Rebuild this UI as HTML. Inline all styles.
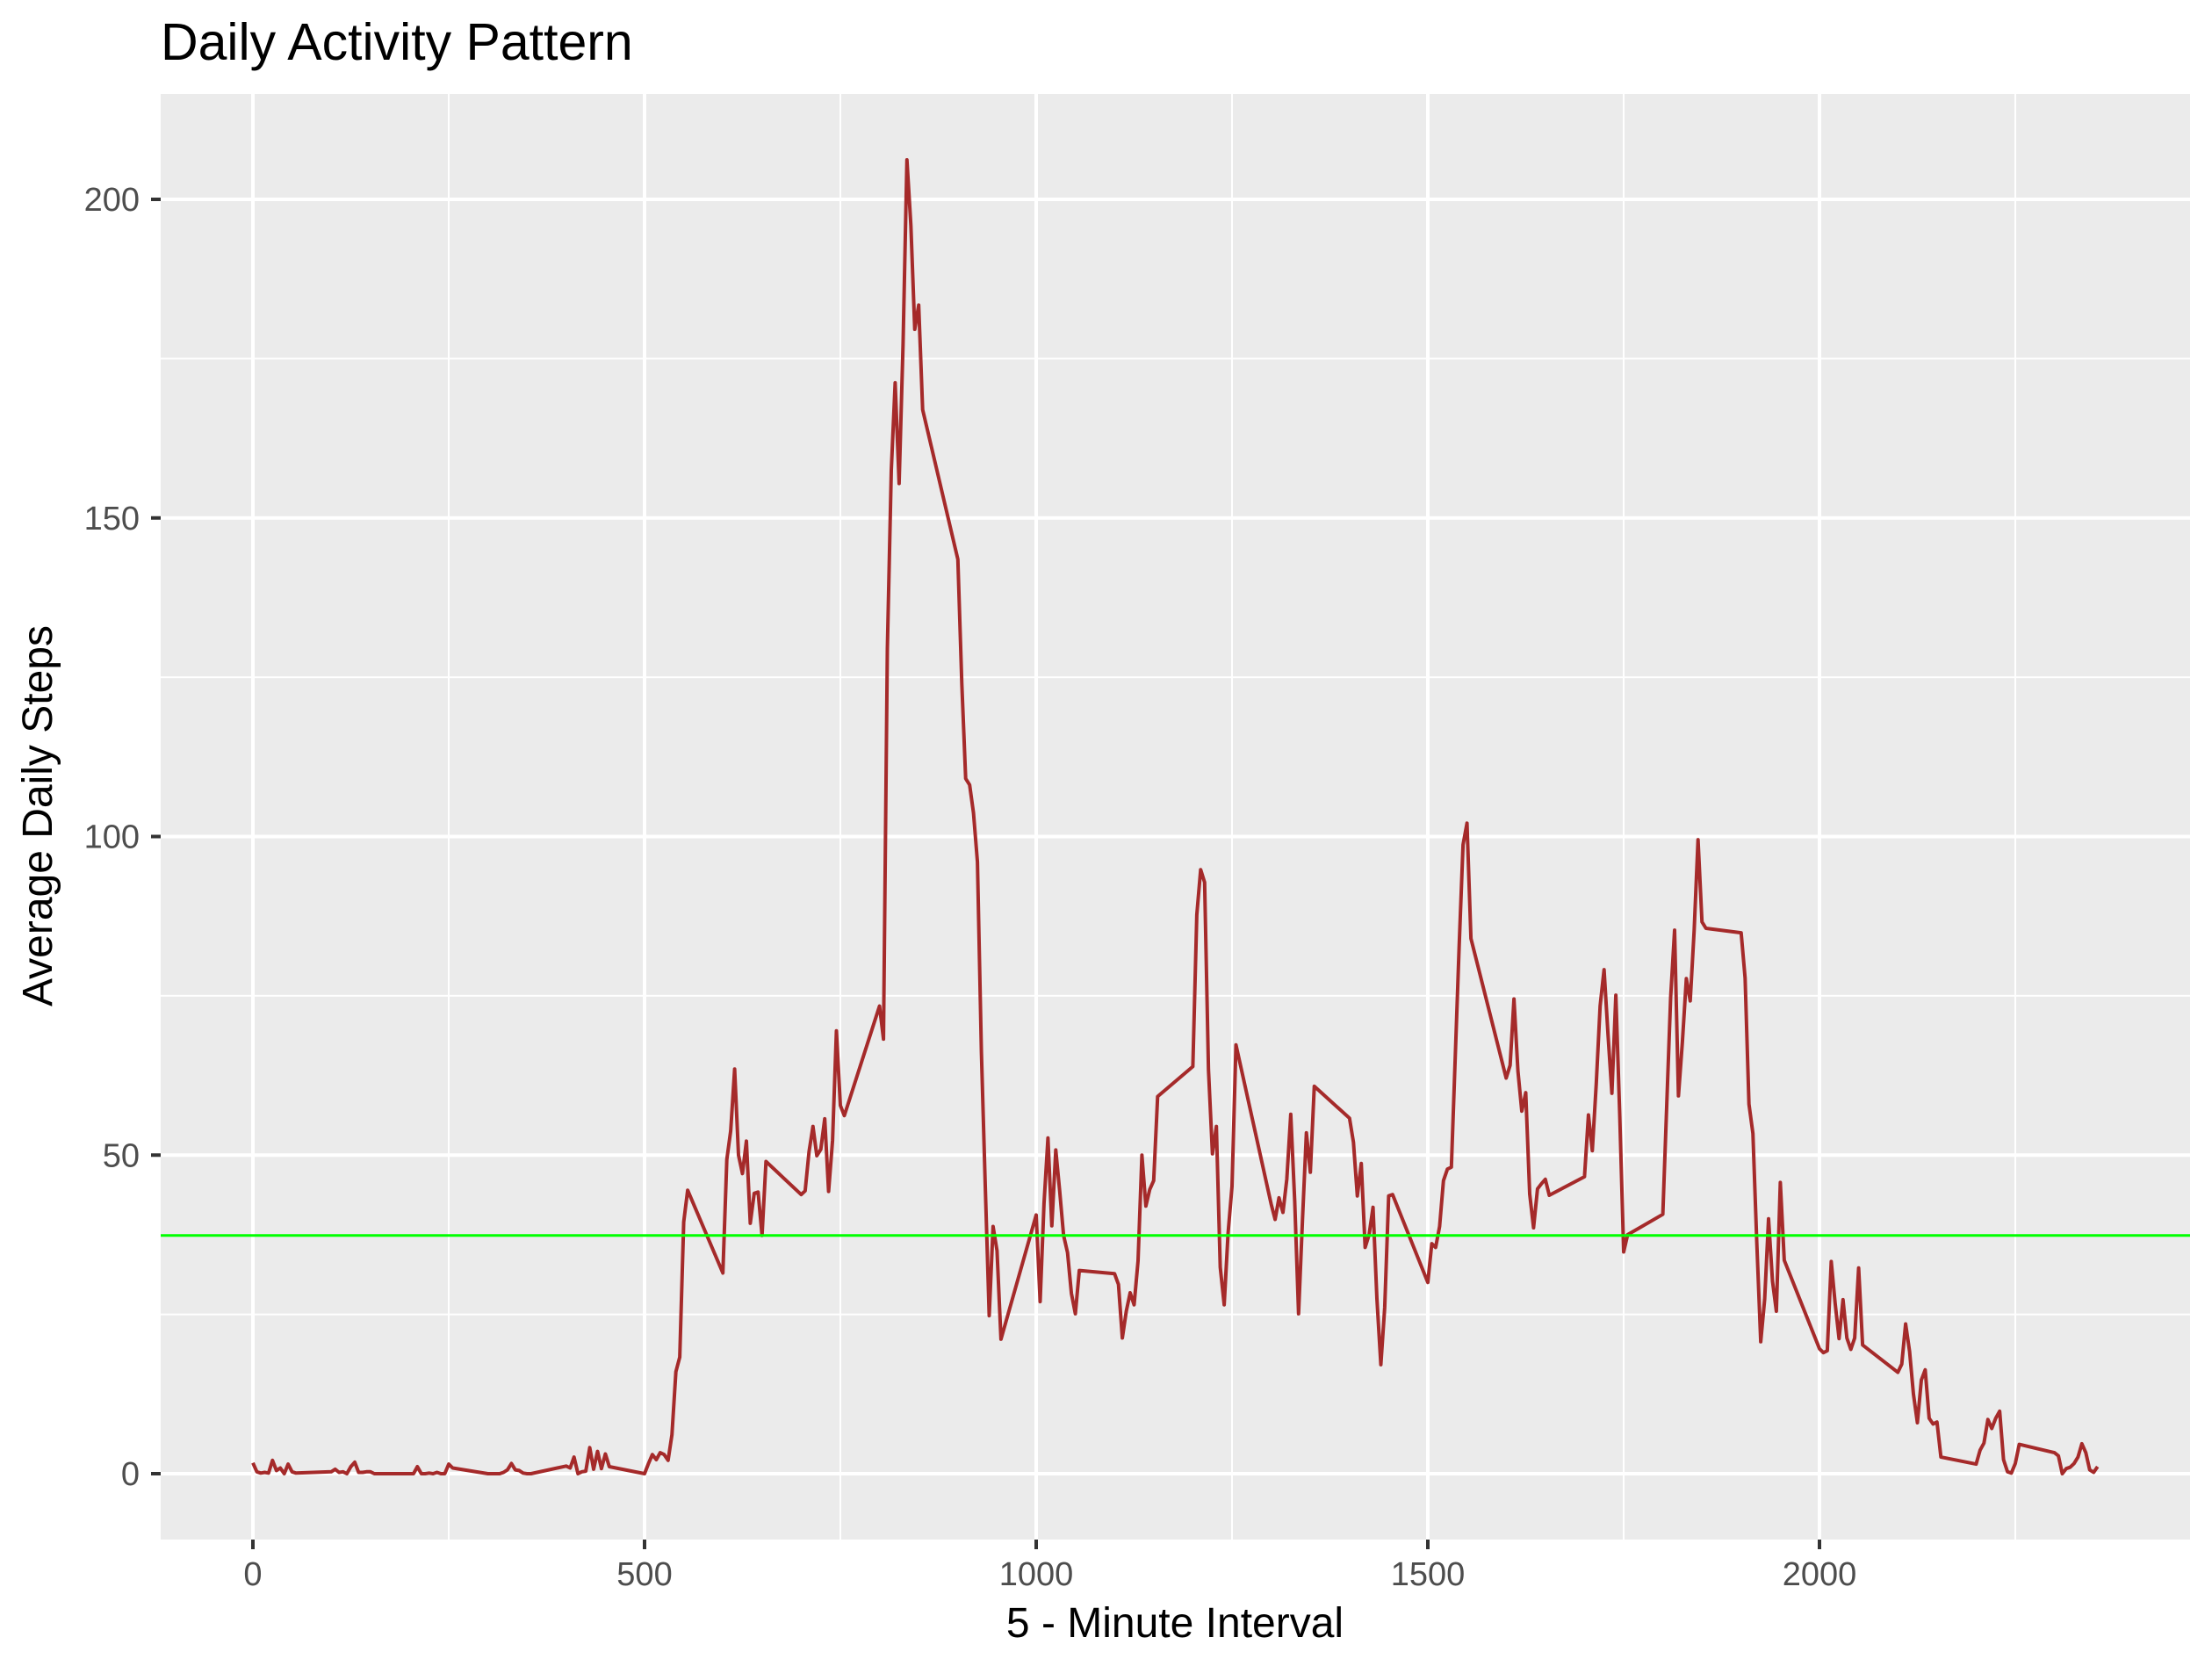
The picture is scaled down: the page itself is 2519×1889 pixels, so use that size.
<!DOCTYPE html>
<html><head><meta charset="utf-8"><style>
html,body{margin:0;padding:0;background:#fff}
svg{display:block}
text{font-family:"Liberation Sans",Arial,sans-serif}
</style></head><body>
<svg id="chart" width="2519" height="1889" xmlns="http://www.w3.org/2000/svg">
<rect x="0" y="0" width="2519" height="1889" fill="#fff"/>
<text x="183" y="68" font-size="59" fill="#000">Daily Activity Pattern</text>
<rect x="183" y="107" width="2311" height="1646" fill="#ebebeb"/>
<g id="grid"></g>
<g id="marks"></g>
<g id="axes"></g>
<text x="1338" y="1864" font-size="48" text-anchor="middle" fill="#000">5 - Minute Interval</text>
<text transform="translate(59,929) rotate(-90)" font-size="48" text-anchor="middle" fill="#000">Average Daily Steps</text>
</svg>
<script>
const intervals = [0,5,10,15,20,25,30,35,40,45,50,55,100,105,110,115,120,125,130,135,140,145,150,155,200,205,210,215,220,225,230,235,240,245,250,255,300,305,310,315,320,325,330,335,340,345,350,355,400,405,410,415,420,425,430,435,440,445,450,455,500,505,510,515,520,525,530,535,540,545,550,555,600,605,610,615,620,625,630,635,640,645,650,655,700,705,710,715,720,725,730,735,740,745,750,755,800,805,810,815,820,825,830,835,840,845,850,855,900,905,910,915,920,925,930,935,940,945,950,955,1000,1005,1010,1015,1020,1025,1030,1035,1040,1045,1050,1055,1100,1105,1110,1115,1120,1125,1130,1135,1140,1145,1150,1155,1200,1205,1210,1215,1220,1225,1230,1235,1240,1245,1250,1255,1300,1305,1310,1315,1320,1325,1330,1335,1340,1345,1350,1355,1400,1405,1410,1415,1420,1425,1430,1435,1440,1445,1450,1455,1500,1505,1510,1515,1520,1525,1530,1535,1540,1545,1550,1555,1600,1605,1610,1615,1620,1625,1630,1635,1640,1645,1650,1655,1700,1705,1710,1715,1720,1725,1730,1735,1740,1745,1750,1755,1800,1805,1810,1815,1820,1825,1830,1835,1840,1845,1850,1855,1900,1905,1910,1915,1920,1925,1930,1935,1940,1945,1950,1955,2000,2005,2010,2015,2020,2025,2030,2035,2040,2045,2050,2055,2100,2105,2110,2115,2120,2125,2130,2135,2140,2145,2150,2155,2200,2205,2210,2215,2220,2225,2230,2235,2240,2245,2250,2255,2300,2305,2310,2315,2320,2325,2330,2335,2340,2345,2350,2355];
const steps = [1.7,0.3,0.1,0.2,0.1,2.1,0.5,0.9,0,1.5,0.3,0.1,0.3,0.7,0.2,0.3,0,1.1,1.8,0.2,0.2,0.3,0.3,0,0,0,1.1,0,0,0.1,0,0.2,0,0,1.5,0.9,0,0,0,0,0.2,0.6,1.6,0.6,0.5,0.1,0,0,1.2,0.9,2.6,0,0.3,0.4,4.1,0.7,3.5,0.8,3.1,1.1,0,1.6,3.0,2.2,3.3,3.0,2.1,6.1,16.0,18.3,39.5,44.5,31.5,49.3,53.8,63.5,50.0,47.1,52.2,39.3,44.0,44.2,37.4,49.0,43.8,44.4,50.5,54.5,49.9,50.9,55.7,44.3,52.3,69.5,57.8,56.2,73.4,68.2,129.4,157.5,171.2,155.4,177.3,206.2,195.9,179.6,183.4,167.0,143.5,124.0,109.1,108.1,103.7,96.0,66.2,45.2,24.8,38.8,35.0,21.1,40.6,27.0,42.4,52.7,38.9,50.8,44.3,37.4,34.7,28.3,25.1,31.9,31.4,29.7,21.3,25.5,28.4,26.5,33.4,50.0,42.0,44.6,46.0,59.2,63.9,87.7,94.8,92.8,63.4,50.2,54.5,32.4,26.5,37.7,45.1,67.3,42.3,39.9,43.3,41.0,46.2,56.4,42.8,25.1,40.0,53.5,47.3,60.8,55.8,52.0,43.6,48.7,35.5,37.5,41.8,27.5,17.1,26.1,43.6,43.8,30.0,36.1,35.5,38.8,46.0,47.8,48.1,65.3,82.9,98.7,102.1,84.0,62.1,64.1,74.5,63.2,56.9,59.8,43.9,38.6,44.7,45.5,46.2,43.7,46.6,56.3,50.7,61.2,73.4,79.1,68.9,59.7,75.1,56.5,34.8,37.5,40.7,58.0,74.7,85.3,59.3,67.8,77.7,74.2,85.3,99.5,86.6,85.6,84.9,77.8,58.0,53.4,36.3,20.7,27.4,40.0,30.2,25.5,45.7,33.5,19.6,19.0,19.3,33.3,26.8,21.2,27.3,21.3,19.5,21.3,32.3,20.2,15.9,17.2,23.5,19.2,12.5,8.0,14.7,16.3,8.7,7.8,8.1,2.6,1.5,3.7,4.8,8.5,7.1,8.7,9.8,2.2,0.3,0.1,1.6,4.6,3.3,2.8,0,0.8,1.0,1.6,2.6,4.7,3.3,0.6,0.2,1.1];
const meanSteps = [37.38];
const xTicks = [0,500,1000,1500,2000];
const xMinor = [250,750,1250,1750,2250];
const yTicks = [0,50,100,150,200];
const yMinor = [25,75,125,175];

const NS = "http://www.w3.org/2000/svg";
const PL = 183, PR = 2494, PT = 107, PB = 1753;
function xs(v){ return 288 + (v - 0) * (2072 - 288) / 2000; }
function ys(v){ return 1678 - v * (1678 - 227) / 200; }
function mk(tag, attrs, parent){
  const e = document.createElementNS(NS, tag);
  for (const k in attrs) e.setAttribute(k, attrs[k]);
  parent.appendChild(e);
  return e;
}
const grid = document.getElementById('grid');
const marks = document.getElementById('marks');
const axes = document.getElementById('axes');

yMinor.forEach(v => {
  const l = mk('line', {x1:PL, x2:PR, y1:ys(v), y2:ys(v), stroke:'#fff', 'stroke-width':2}, grid);
  
  
});
xMinor.forEach(v => {
  const l = mk('line', {x1:xs(v), x2:xs(v), y1:PT, y2:PB, stroke:'#fff', 'stroke-width':2}, grid);
  
  
});
yTicks.forEach(v => {
  const y = ys(v);
  const l = mk('line', {x1:PL, x2:PR, y1:y, y2:y, stroke:'#fff', 'stroke-width':4}, grid);
  
  
  const t = mk('line', {x1:PL-11, x2:PL, y1:y, y2:y, stroke:'#333', 'stroke-width':4}, axes);
  
  
  const tx = mk('text', {x:159, y:y+13, 'font-size':38, 'text-anchor':'end', fill:'#4d4d4d'}, axes);
  tx.textContent = v;
  
  
});
xTicks.forEach(v => {
  const x = xs(v);
  const l = mk('line', {x1:x, x2:x, y1:PT, y2:PB, stroke:'#fff', 'stroke-width':4}, grid);
  
  
  const t = mk('line', {x1:x, x2:x, y1:PB, y2:PB+11, stroke:'#333', 'stroke-width':4}, axes);
  
  
  const tx = mk('text', {x:x, y:1805, 'font-size':38, 'text-anchor':'middle', fill:'#4d4d4d'}, axes);
  tx.textContent = v;
  
  
});

const pts = intervals.map((iv, i) => xs(iv).toFixed(1) + ',' + ys(steps[i]).toFixed(1)).join(' ');
const line = mk('polyline', {points:pts, fill:'none', stroke:'#a52a2a', 'stroke-width':4, 'stroke-linejoin':'round'}, marks);



meanSteps.forEach(m => {
  const h = mk('line', {x1:PL, x2:PR, y1:ys(m), y2:ys(m), stroke:'#00ff00', 'stroke-width':3}, marks);
  
  
});
</script>
</body></html>
